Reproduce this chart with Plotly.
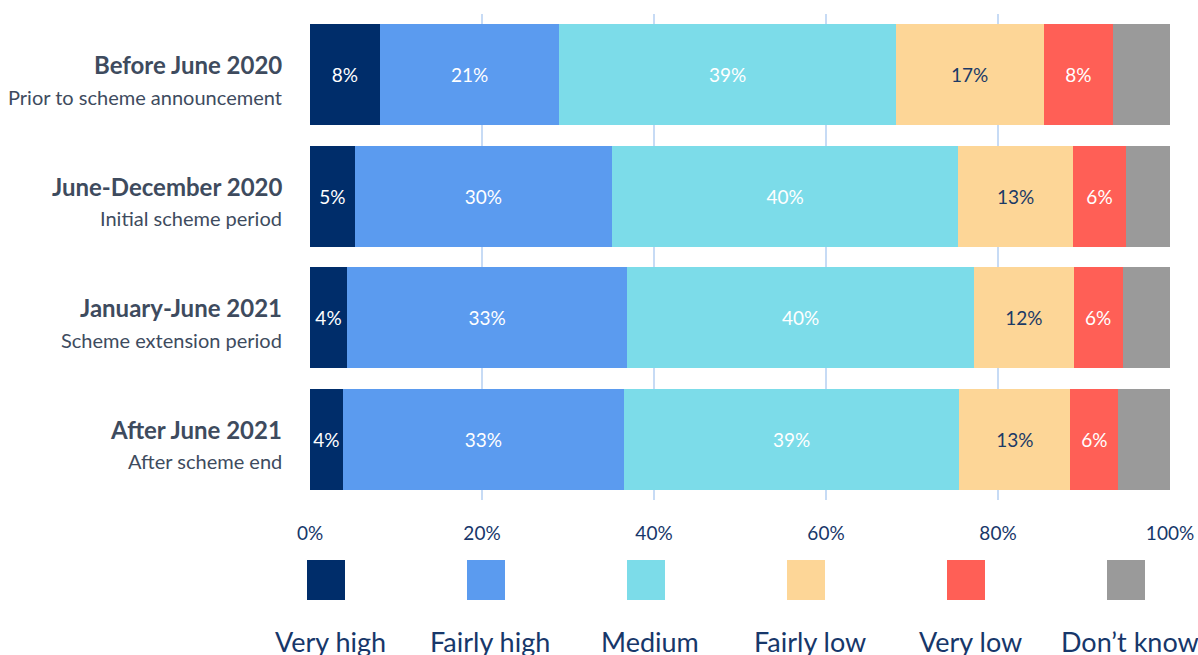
import plotly.graph_objects as go

# Survey periods (top to bottom) with their sub-captions
periods = ["Before June 2020", "June-December 2020", "January-June 2021", "After June 2021"]
captions = ["Prior to scheme announcement", "Initial scheme period",
            "Scheme extension period", "After scheme end"]

# Response shares (%) per period
very_high = [8.1, 5.2, 4.3, 3.8]
fairly_high = [20.9, 29.9, 32.6, 32.7]
medium = [39.1, 40.3, 40.3, 39.0]
fairly_low = [17.2, 13.3, 11.6, 12.9]
very_low = [8.1, 6.2, 5.7, 5.6]
dont_know = [6.6, 5.1, 5.5, 6.0]

tick_vals = [0, 20, 40, 60, 80, 100]
tick_text = ["0%", "20%", "40%", "60%", "80%", "100%"]

series = [
    ("Very high", very_high, "#002D6A", "white", True),
    ("Fairly high", fairly_high, "#5B9BEF", "white", True),
    ("Medium", medium, "#7CDCE9", "white", True),
    ("Fairly low", fairly_low, "#FDD697", "#1B3A66", True),
    ("Very low", very_low, "#FF5F56", "white", True),
    ("Don\u2019t know", dont_know, "#9A9A9A", "white", False),
]

FONT = "Lato"
NAVY = "#17376A"
SLATE = "#3E4B5E"

fig = go.Figure()
for name, vals, color, txtcol, labelled in series:
    fig.add_trace(go.Bar(
        y=periods, x=vals, orientation="h", name=name,
        marker=dict(color=color, line=dict(width=0)),
        text=[f"{round(v)}%" for v in vals] if labelled else None,
        textposition="inside", insidetextanchor="middle", textangle=0,
        textfont=dict(family=FONT, size=19, color=txtcol),
        hoverinfo="skip", showlegend=False,
    ))

annotations = []
# Period titles and captions to the left of the bars
for p, c in zip(periods, captions):
    annotations.append(dict(
        x=0, xref="paper", y=p, yref="y", xanchor="right", yanchor="middle",
        xshift=-26, yshift=10, showarrow=False,
        text=f"<b>{p}</b>", font=dict(family=FONT, size=24, color=SLATE)))
    annotations.append(dict(
        x=0, xref="paper", y=p, yref="y", xanchor="right", yanchor="middle",
        xshift=-26, yshift=-22, showarrow=False,
        text=c, font=dict(family=FONT, size=20, color=SLATE)))

# Key: a colour swatch with its label underneath
shapes = []
plot_w = 860.0
plot_h = 486.0
for i, (name, vals, color, txtcol, labelled) in enumerate(series):
    cx = (16 + 160 * i) / plot_w
    half = 19 / plot_w
    shapes.append(dict(
        type="rect", xref="paper", yref="paper",
        x0=cx - half, x1=cx + half, y0=-60 / plot_h, y1=-100 / plot_h,
        fillcolor=color, line=dict(width=0)))
    annotations.append(dict(
        x=cx, xref="paper", y=-141 / plot_h, yref="paper",
        xanchor="center", yanchor="middle", xshift=4, showarrow=False,
        text=name, font=dict(family=FONT, size=27, color=NAVY)))

fig.update_layout(
    barmode="stack", bargap=0.17,
    width=1198, height=655,
    margin=dict(l=310, r=28, t=14, b=155, autoexpand=False),
    paper_bgcolor="white", plot_bgcolor="white",
    uniformtext=dict(mode="show", minsize=19),
    annotations=annotations, shapes=shapes,
    xaxis=dict(
        range=[0, 100], tickvals=tick_vals, ticktext=tick_text,
        showgrid=True, gridcolor="#C7DBF5", gridwidth=2, zeroline=False,
        ticks="outside", ticklen=16, tickcolor="rgba(0,0,0,0)",
        tickfont=dict(family=FONT, size=19, color=NAVY),
        fixedrange=True, automargin=False,
    ),
    yaxis=dict(
        autorange="reversed", showticklabels=False, showgrid=False,
        zeroline=False, fixedrange=True, automargin=False,
    ),
)

fig.write_html("out.html")
